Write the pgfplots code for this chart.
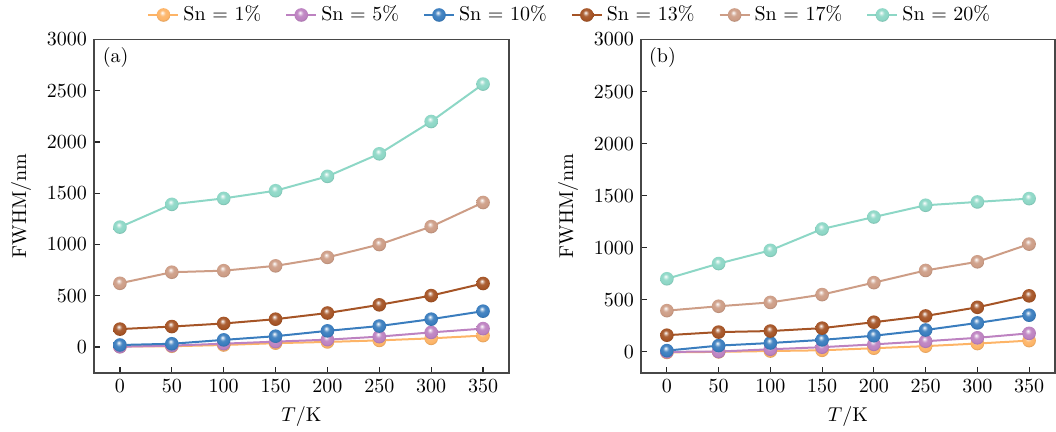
\documentclass[border=0pt]{standalone}
\usepackage{pgfplots}
\usepackage{pgfplotstable}
\pgfplotsset{compat=1.18}
\definecolor{cA}{HTML}{FDB467}
\definecolor{cB}{HTML}{BD82C1}
\definecolor{cC}{HTML}{3A7DBE}
\definecolor{cD}{HTML}{A55426}
\definecolor{cE}{HTML}{CD9D86}
\definecolor{cF}{HTML}{8DD7C6}
\newcommand\mkball[1]{%
  \pgfdeclareradialshading{ball#1}{\pgfpoint{-5bp}{9bp}}{%
    color(0bp)=(white); color(4bp)=(c#1!35!white); color(11bp)=(c#1!92!white);
    color(22bp)=(c#1); color(30bp)=(c#1!82!black); color(50bp)=(c#1!75!black)}%
  \pgfdeclareplotmark{ball#1}{%
    \pgfpathcircle{\pgfpointorigin}{\pgfplotmarksize}%
    \pgfshadepath{ball#1}{0}\pgfusepath{discard}}}
\mkball{A}\mkball{B}\mkball{C}\mkball{D}\mkball{E}\mkball{F}
\pgfplotstableread{
T s1 s2 s3 s4 s5 s6
0 5 3 20 175 622 1170
50 8 14 32 200 730 1392
100 20 33 70 230 745 1450
150 38 53 106 272 792 1525
200 50 72 158 332 875 1665
250 65 102 205 412 1000 1885
300 85 143 272 502 1175 2200
350 112 180 350 620 1410 2565
}\tabA
\pgfplotstableread{
T s1 s2 s3 s4 s5 s6
0 -5 0 12 160 396 702
50 0 3 60 190 438 848
100 8 25 85 200 475 975
150 15 45 115 228 550 1180
200 35 72 155 285 665 1295
250 55 102 210 345 782 1408
300 80 135 278 428 865 1440
350 108 178 352 538 1035 1472
}\tabB
\pgfplotsset{
  panel/.style={
    width=207.5pt, height=166.6pt, scale only axis,
    xmin=-25, xmax=375, xtick={0,50,...,350},
    ytick={0,500,...,3000}, ymax=3000,
    scaled y ticks=false,
    /pgf/number format/1000 sep={},
    xtick pos=bottom, ytick pos=left,
    tick align=inside, major tick length=3pt,
    axis line style={draw=black!72, line width=0.85pt},
    tick style={black!85, line width=0.6pt},
    xlabel={$T$/K}, ylabel={FWHM/nm},
    ylabel style={xshift=0pt, yshift=1pt},
    every axis plot/.append style={line width=1pt, mark size=3.4pt},
    legend image code/.code={\draw[mark repeat=2,mark phase=2] plot coordinates {(0pt,0pt)(7.5pt,0pt)(15pt,0pt)};},
  },
  sA/.style={color=cA, mark=ballA},
  sB/.style={color=cB, mark=ballB},
  sC/.style={color=cC, mark=ballC},
  sD/.style={color=cD, mark=ballD},
  sE/.style={color=cE, mark=ballE},
  sF/.style={color=cF, mark=ballF},
}
\begin{document}
\begin{tikzpicture}
\useasboundingbox (0,0) rectangle (528pt,216pt);
\begin{axis}[panel, at={(47pt,29.65pt)}, anchor=south west, ymin=-250,
  legend style={at={(1.149,1.0735)}, anchor=center, draw=none, fill=none,
    legend columns=6, /tikz/every even column/.append style={column sep=10pt}}]
\addplot[sA] table[x=T,y=s1]{\tabA}; \addlegendentry{Sn = 1\%}
\addplot[sB] table[x=T,y=s2]{\tabA}; \addlegendentry{Sn = 5\%}
\addplot[sC] table[x=T,y=s3]{\tabA}; \addlegendentry{Sn = 10\%}
\addplot[sD] table[x=T,y=s4]{\tabA}; \addlegendentry{Sn = 13\%}
\addplot[sE] table[x=T,y=s5]{\tabA}; \addlegendentry{Sn = 17\%}
\addplot[sF] table[x=T,y=s6]{\tabA}; \addlegendentry{Sn = 20\%}
\node at (rel axis cs:0.052,0.947) {(a)};
\end{axis}
\begin{axis}[panel, at={(320.5pt,29.65pt)}, anchor=south west, ymin=-200, width=207pt]
\addplot[sA] table[x=T,y=s1]{\tabB};
\addplot[sB] table[x=T,y=s2]{\tabB};
\addplot[sC] table[x=T,y=s3]{\tabB};
\addplot[sD] table[x=T,y=s4]{\tabB};
\addplot[sE] table[x=T,y=s5]{\tabB};
\addplot[sF] table[x=T,y=s6]{\tabB};
\node at (rel axis cs:0.052,0.947) {(b)};
\end{axis}
\end{tikzpicture}
\end{document}
